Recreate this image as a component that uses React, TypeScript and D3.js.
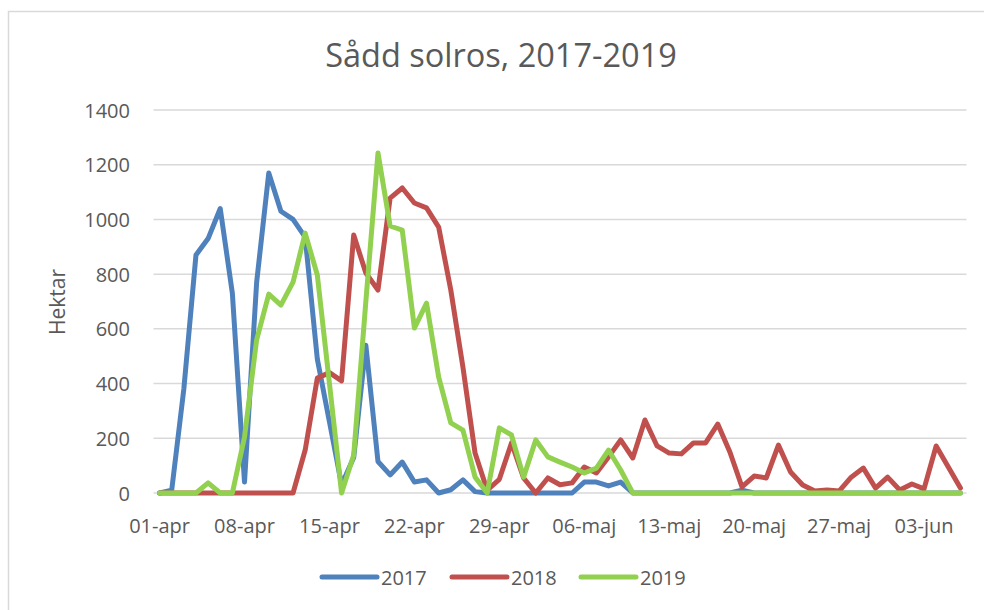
import React, { useEffect, useRef } from 'react';
import * as d3 from 'd3';

// one value per day, 01-apr .. 06-jun
const sown2017 = [
  0, 10, 380, 870, 930, 1040, 730, 40, 770, 1170,
  1030, 1000, 935, 490, 260, 30, 130, 540, 115, 66,
  113, 40, 48, 0, 12, 48, 5, 0, 0, 0,
  0, 0, 0, 0, 0, 40, 40, 26, 40, 0,
  0, 0, 0, 0, 0, 0, 0, 0, 10, 0,
  0, 0, 0, 0, 0, 0, 0, 0, 0, 0,
  0, 0, 0, 0, 0, 0, 0,
];
const sown2018 = [
  0, 0, 0, 0, 0, 0, 0, 0, 0, 0,
  0, 0, 157, 420, 440, 410, 943, 804, 742, 1078,
  1115, 1060, 1042, 972, 742, 460, 146, 10, 50, 183,
  55, 0, 55, 30, 37, 95, 73, 132, 194, 128,
  267, 172, 146, 143, 183, 183, 252, 150, 22, 62,
  55, 175, 77, 29, 7, 11, 7, 58, 91, 18,
  58, 11, 33, 15, 172, 95, 18,
];
const sown2019 = [
  0, 0, 0, 0, 37, 0, 0, 205, 560, 727,
  687, 771, 950, 797, 400, 0, 139, 700, 1243, 976,
  961, 603, 694, 424, 256, 230, 58, 0, 238, 212,
  58, 194, 132, 113, 95, 73, 91, 157, 84, 0,
  0, 0, 0, 0, 0, 0, 0, 0, 0, 0,
  0, 0, 0, 0, 0, 0, 0, 0, 0, 0,
  0, 0, 0, 0, 0, 0, 0,
];
const seriesNames = ['2017', '2018', '2019'];
const seriesColors = ['#4F81BD', '#C0504D', '#92D050'];
const xTickLabels = ['01-apr', '08-apr', '15-apr', '22-apr', '29-apr', '06-maj', '13-maj', '20-maj', '27-maj', '03-jun'];
const yTicks = [0, 200, 400, 600, 800, 1000, 1200, 1400];

const font = '"Open Sans", sans-serif';
const textColor = '#595959';

export default function App() {
  const ref = useRef<SVGSVGElement>(null);

  useEffect(() => {
    const svg = d3.select(ref.current);
    svg.selectAll('*').remove();

    const series = [sown2017, sown2018, sown2019];
    const nDays = sown2017.length;

    const x = d3.scaleLinear().domain([-0.5, nDays - 0.5]).range([153.5, 966.5]);
    const y = d3.scaleLinear().domain([0, 1400]).range([493, 110]);

    // chart frame
    svg.append('rect')
      .attr('x', 8.5).attr('y', 11.5)
      .attr('width', 1000).attr('height', 700)
      .attr('fill', 'white')
      .attr('stroke', '#D9D9D9')
      .attr('stroke-width', 1.5);

    svg.append('text')
      .attr('x', 501).attr('y', 66.5)
      .attr('text-anchor', 'middle')
      .attr('font-family', font)
      .attr('font-size', 32.5)
      .attr('fill', textColor)
      .text('Sådd solros, 2017-2019');

    // gridlines
    svg.append('g')
      .selectAll('line')
      .data(yTicks)
      .enter()
      .append('line')
      .attr('x1', x(-0.5)).attr('x2', x(nDays - 0.5))
      .attr('y1', d => y(d)).attr('y2', d => y(d))
      .attr('stroke', '#D9D9D9')
      .attr('stroke-width', 1.5);

    svg.append('g')
      .selectAll('text')
      .data(yTicks)
      .enter()
      .append('text')
      .attr('x', 130)
      .attr('y', d => y(d) + 7.5)
      .attr('text-anchor', 'end')
      .attr('font-family', font)
      .attr('font-size', 20)
      .attr('fill', textColor)
      .text(d => d);

    svg.append('g')
      .selectAll('text')
      .data(xTickLabels)
      .enter()
      .append('text')
      .attr('x', (d, i) => x(i * 7))
      .attr('y', 533)
      .attr('text-anchor', 'middle')
      .attr('font-family', font)
      .attr('font-size', 20)
      .attr('fill', textColor)
      .text(d => d);

    svg.append('text')
      .attr('transform', 'translate(65,302) rotate(-90)')
      .attr('text-anchor', 'middle')
      .attr('font-family', font)
      .attr('font-size', 21)
      .attr('fill', textColor)
      .text('Hektar');

    const line = d3.line<number>()
      .x((d, i) => x(i))
      .y(d => y(d));

    series.forEach((s, k) => {
      svg.append('path')
        .datum(s)
        .attr('fill', 'none')
        .attr('stroke', seriesColors[k])
        .attr('stroke-width', 5)
        .attr('stroke-linejoin', 'round')
        .attr('stroke-linecap', 'round')
        .attr('d', line);
    });

    // legend
    const legendX = [322, 452, 581];
    const lg = svg.append('g');
    seriesNames.forEach((name, k) => {
      lg.append('line')
        .attr('x1', legendX[k]).attr('x2', legendX[k] + 55)
        .attr('y1', 577).attr('y2', 577)
        .attr('stroke', seriesColors[k])
        .attr('stroke-width', 5)
        .attr('stroke-linecap', 'round');
      lg.append('text')
        .attr('x', legendX[k] + 59)
        .attr('y', 584.5)
        .attr('font-family', font)
        .attr('font-size', 20)
        .attr('fill', textColor)
        .text(name);
    });
  }, []);

  return (
    <div style={{ position: 'absolute', left: 0, top: 0, width: 984, height: 610, overflow: 'hidden' }}>
      <svg ref={ref} width={984} height={610} style={{ display: 'block' }} />
    </div>
  );
}
